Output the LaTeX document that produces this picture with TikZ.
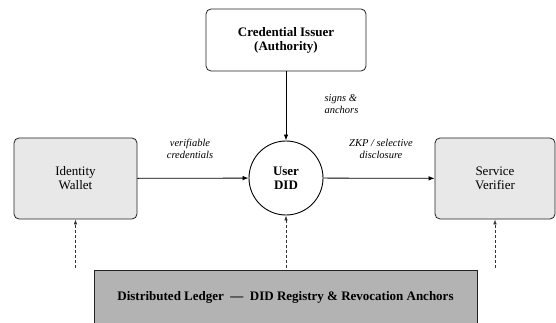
\documentclass[tikz,border=0pt]{standalone}
\usepackage{fontspec}
\setmainfont{Liberation Serif}
\usepackage{tikz}
\usetikzlibrary{arrows.meta,positioning}
\definecolor{walletgray}{HTML}{E8E8E8}
\definecolor{ledgergray}{HTML}{B3B3B3}
\definecolor{edgegray}{HTML}{222222}

\begin{document}
\begin{tikzpicture}[x=1pt,y=-1pt,
    party/.style={draw=edgegray,line width=0.8pt,rounded corners=5pt,fill=walletgray,
      align=center,font=\fontsize{13}{14}\selectfont,minimum height=81pt},
    flow/.style={line width=0.8pt,-{Latex[length=6pt,width=4.5pt]}},
    anchorflow/.style={gray!40!black,line width=0.6pt,dash pattern=on 3pt off 2pt,
      -{Latex[length=5pt,width=3.5pt]}},
    note/.style={font=\fontsize{10.5}{11.5}\selectfont\itshape,align=center}]
      \useasboundingbox (0,0) rectangle (556,323);

      \node[party,fill=white,minimum width=160pt,minimum height=62pt,font=\fontsize{13}{14}\selectfont\bfseries]
        (issuer) at (286,40) {Credential Issuer\\(Authority)};
      \node[draw=black,line width=0.9pt,circle,minimum size=74pt,inner sep=0pt,align=center,
        font=\fontsize{13}{14}\selectfont\bfseries] (did) at (286,178) {User\\DID};
      \node[party,minimum width=123pt] (wallet) at (75.5,178.5) {Identity\\Wallet};
      \node[party,minimum width=120pt] (verifier) at (495,178.5) {Service\\Verifier};
      \node[draw=edgegray,line width=0.8pt,fill=ledgergray,minimum width=383pt,minimum height=55pt,
        font=\fontsize{13}{14}\selectfont\bfseries] (ledger) at (285.5,297.5)
        {Distributed Ledger \ --- \ DID Registry \& Revocation Anchors};

      \draw[flow] (issuer) -- (did);
      \draw[flow] (wallet) -- (did);
      \draw[flow] (did) -- (verifier);
      \node[note,anchor=west,align=left] (signs) at (321,104) {signs \&\\anchors};
      \node[note] (vc) at (190,149) {verifiable\\credentials};
      \node[note] (zkp) at (381,149) {ZKP / selective\\disclosure};

      \draw[anchorflow] ([yshift=2pt]ledger.north -| wallet.south) -- (wallet.south);
      \draw[anchorflow] ([yshift=2pt]ledger.north -| did.south) -- (did.south);
      \draw[anchorflow] ([yshift=2pt]ledger.north -| verifier.south) -- (verifier.south);
    \end{tikzpicture}
\end{document}
